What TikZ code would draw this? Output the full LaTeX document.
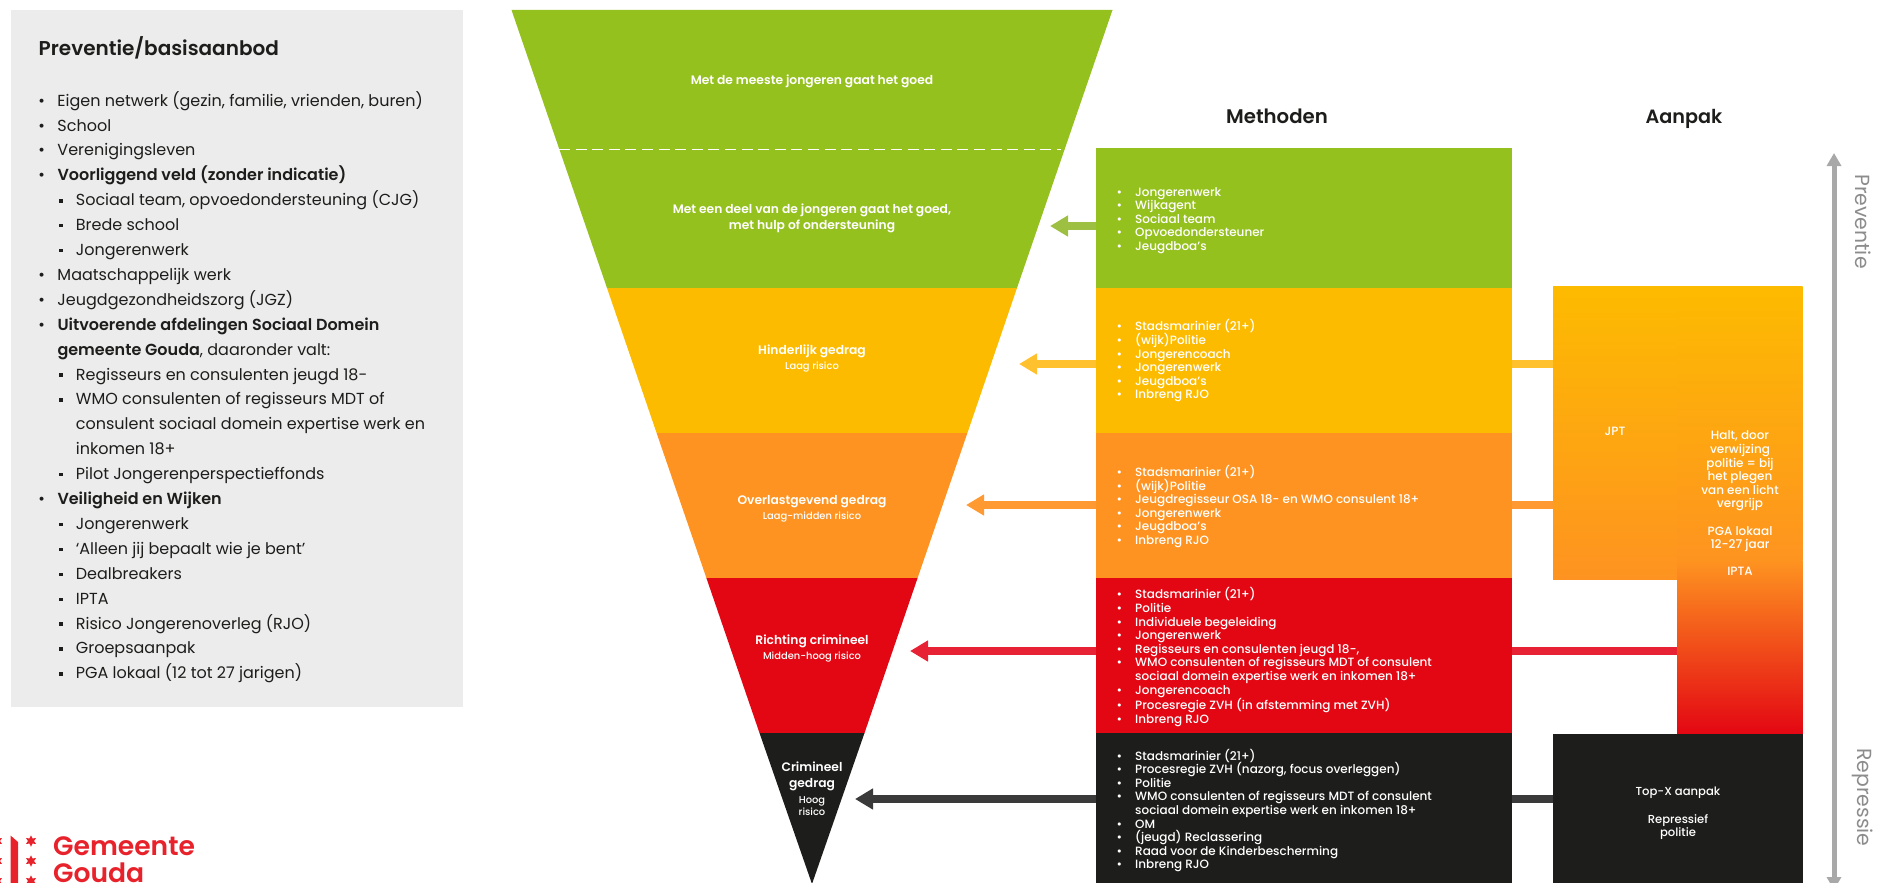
\documentclass[tikz,border=0pt]{standalone}
\usepackage{fontspec}
\setmainfont{Poppins}
\newfontfamily\semib{Poppins SemiBold}
\newfontfamily\medf{Poppins Medium}
\usetikzlibrary{arrows.meta,calc,shapes.geometric}
\definecolor{cgreen}{HTML}{95C11F}
\definecolor{cyellow}{HTML}{FDBB00}
\definecolor{corange}{HTML}{FE9321}
\definecolor{cred}{HTML}{E30613}
\definecolor{clogo}{HTML}{E8222B}
\definecolor{cblack}{HTML}{1D1D1B}
\definecolor{cpanel}{HTML}{ECECEC}
\definecolor{cgray}{HTML}{A8A8A8}
\definecolor{cgraytxt}{HTML}{8C8C8C}
\definecolor{agreen}{HTML}{9DBF42}
\definecolor{ayellow}{HTML}{FFC22E}
\definecolor{aorange}{HTML}{FF9A32}
\definecolor{ared}{HTML}{E62234}
\definecolor{ablack}{HTML}{3A3A3A}
\newcommand{\bul}{\llap{•\hspace{12.5pt}}}
\newcommand{\sbul}{\llap{\rule[3.2pt]{4pt}{3.4pt}\hspace{12.5pt}}}
\newcommand{\wb}{\llap{•\hspace{13pt}}}
\tikzset{
  mbox/.style={anchor=north west,minimum width=416pt,inner sep=0pt,outer sep=0pt,rectangle},
  mtext/.style={anchor=west,align=left,inner sep=0pt,text=white,font=\fontsize{12}{13.6}\medf},
  flabel/.style={align=center,inner sep=0pt,text=white,font=\fontsize{12.3}{16}\semib},
  fsub/.style={align=center,inner sep=0pt,text=white,font=\fontsize{9.9}{12}\medf},
  atext/.style={align=center,inner sep=0pt,text=white,font=\fontsize{12}{13.6}\medf},
  head/.style={inner sep=0pt,text=cblack,font=\fontsize{19.7}{22}\semib},
  back/.style={-{Triangle[length=18pt,width=20pt]},line width=8pt},
  link/.style={line width=8pt},
  side/.style={inner sep=0pt,text=cgraytxt,font=\fontsize{20.4}{22}\selectfont,rotate=-90},
  lstar/.style={star,star points=6,star point ratio=1.9,fill=clogo,minimum size=11.5pt,inner sep=0pt},
}
\begin{document}
\begin{tikzpicture}[x=1pt,y=-1pt]
\useasboundingbox (0,0) rectangle (1883,883);
% left panel
\fill[cpanel] (10.6,10) rectangle (463,707);
\node[anchor=west,inner sep=0pt,text=cblack,font=\fontsize{20}{22}\semib] (ptitle) at (38.5,48) {Preventie/basisaanbod};
\node[anchor=north west,inner sep=0pt,align=left,text=cblack,font=\fontsize{16}{24.9}\selectfont] (plist) at (57.3,91) {%
\bul Eigen netwerk (gezin, familie, vrienden, buren)\\
\bul School\\
\bul Verenigingsleven\\
\bul {\semib Voorliggend veld (zonder indicatie)}\\
\hspace{18.4pt}\sbul Sociaal team, opvoedondersteuning (CJG)\\
\hspace{18.4pt}\sbul Brede school\\
\hspace{18.4pt}\sbul Jongerenwerk\\
\bul Maatschappelijk werk\\
\bul Jeugdgezondheidszorg (JGZ)\\
\bul {\semib Uitvoerende afdelingen Sociaal Domein}\\
{\semib gemeente Gouda}, daaronder valt:\\
\hspace{18.4pt}\sbul Regisseurs en consulenten jeugd 18-\\
\hspace{18.4pt}\sbul WMO consulenten of regisseurs MDT of\\
\hspace{18.4pt}consulent sociaal domein expertise werk en\\
\hspace{18.4pt}inkomen 18+\\
\hspace{18.4pt}\sbul Pilot Jongerenperspectieffonds\\
\bul {\semib Veiligheid en Wijken}\\
\hspace{18.4pt}\sbul Jongerenwerk\\
\hspace{18.4pt}\sbul ‘Alleen jij bepaalt wie je bent’\\
\hspace{18.4pt}\sbul Dealbreakers\\
\hspace{18.4pt}\sbul IPTA\\
\hspace{18.4pt}\sbul Risico Jongerenoverleg (RJO)\\
\hspace{18.4pt}\sbul Groepsaanpak\\
\hspace{18.4pt}\sbul PGA lokaal (12 tot 27 jarigen)};
% logo
\fill[clogo] (10.5,835.5) -- (18,842) -- (18,883) -- (10.5,883) -- cycle;
\foreach \yy in {841,861,881}{
  \node[lstar] at (31,\yy) {};
  \node[lstar] at (-3,\yy) {};
}
\node[anchor=west,inner sep=0pt,text=clogo,font=\fontsize{26.6}{27}\semib,align=left] (logo) at (53,859.5) {Gemeente\\Gouda};
% funnel
\fill[cgreen] (511.5,10) -- (1112.5,10) -- (1017,288) -- (607,288) -- cycle;
\fill[cyellow] (607,288) -- (1017,288) -- (967.4,433) -- (656.6,433) -- cycle;
\fill[corange] (656.6,433) -- (967.4,433) -- (917.6,578) -- (706.4,578) -- cycle;
\fill[cred] (706.4,578) -- (917.6,578) -- (864.5,733) -- (759.5,733) -- cycle;
\fill[cblack] (759.5,733) -- (864.5,733) -- (812,884) -- cycle;
\draw[white,line width=1pt,dash pattern=on 11pt off 5.6pt] (559,149) -- (1061,149);
\node[flabel] (f1) at (812,81) {Met de meeste jongeren gaat het goed};
\node[flabel] (f2) at (812,218) {Met een deel van de jongeren gaat het goed,\\met hulp of ondersteuning};
\node[flabel] (f3) at (812,351) {Hinderlijk gedrag};
\node[fsub] (f3s) at (812,367.5) {Laag risico};
\node[flabel] (f4) at (812,501.5) {Overlastgevend gedrag};
\node[fsub] (f4s) at (812,517.5) {Laag-midden risico};
\node[flabel] (f5) at (812,641) {Richting crimineel};
\node[fsub] (f5s) at (812,657) {Midden-hoog risico};
\node[flabel] (f6) at (812,776) {Crimineel\\gedrag};
\node[fsub] (f6s) at (812,806) {Hoog\\risico};
% headers
\node[head] (hm) at (1277,116) {Methoden};
\node[head,font=\fontsize{19.2}{22}\semib] (ha) at (1684,118.5) {Aanpak};
% connector coordinates
\coordinate (tg) at (1050,226); \coordinate (bg) at (1096,226);
\coordinate (ty) at (1019,364); \coordinate (by) at (1096,364); \coordinate (ry) at (1512,364); \coordinate (ey) at (1553,364);
\coordinate (to) at (966,505); \coordinate (bo) at (1096,505); \coordinate (ro) at (1512,505); \coordinate (eo) at (1553,505);
\coordinate (tr) at (910,651); \coordinate (br) at (1096,651); \coordinate (rr) at (1512,651); \coordinate (er) at (1677,651);
\coordinate (tk) at (855,799); \coordinate (bk) at (1096,799); \coordinate (rk) at (1512,799); \coordinate (ek) at (1553,799);
\draw[back,agreen] (bg) -- (tg);
\draw[back,ayellow] (by) -- (ty);
\draw[back,aorange] (bo) -- (to);
\draw[back,ared] (br) -- (tr);
\draw[back,ablack] (bk) -- (tk);
\draw[link,ayellow] (ry) -- (ey);
\draw[link,aorange] (ro) -- (eo);
\draw[link,ared] (rr) -- (er);
\draw[link,ablack] (rk) -- (ek);
% method boxes
\node[mbox,fill=cgreen,minimum height=140pt] (m1) at (1096,148) {};
\node[mbox,fill=cyellow,minimum height=145pt] (m2) at (1096,288) {};
\node[mbox,fill=corange,minimum height=145pt] (m3) at (1096,433) {};
\node[mbox,fill=cred,minimum height=155pt] (m4) at (1096,578) {};
\node[mbox,fill=cblack,minimum height=150pt] (m5) at (1096,733) {};
\node[mtext] (t1) at (1135,220.5) {\wb Jongerenwerk\\\wb Wijkagent\\\wb Sociaal team\\\wb Opvoedondersteuner\\\wb Jeugdboa’s};
\node[mtext] (t2) at (1135,361) {\wb Stadsmarinier (21+)\\\wb (wijk)Politie\\\wb Jongerencoach\\\wb Jongerenwerk\\\wb Jeugdboa’s\\\wb Inbreng RJO};
\node[mtext] (t3) at (1135,506.5) {\wb Stadsmarinier (21+)\\\wb (wijk)Politie\\\wb Jeugdregisseur OSA 18- en WMO consulent 18+\\\wb Jongerenwerk\\\wb Jeugdboa’s\\\wb Inbreng RJO};
\node[mtext] (t4) at (1135,657) {\wb Stadsmarinier (21+)\\\wb Politie\\\wb Individuele begeleiding\\\wb Jongerenwerk\\\wb Regisseurs en consulenten jeugd 18-,\\\wb WMO consulenten of regisseurs MDT of consulent\\sociaal domein expertise werk en inkomen 18+\\\wb Jongerencoach\\\wb Procesregie ZVH (in afstemming met ZVH)\\\wb Inbreng RJO};
\node[mtext] (t5) at (1135,810.5) {\wb Stadsmarinier (21+)\\\wb Procesregie ZVH (nazorg, focus overleggen)\\\wb Politie\\\wb WMO consulenten of regisseurs MDT of consulent\\sociaal domein expertise werk en inkomen 18+\\\wb OM\\\wb (jeugd) Reclassering\\\wb Raad voor de Kinderbescherming\\\wb Inbreng RJO};
% aanpak
\shade[top color=cyellow,bottom color=corange] (1553,286.5) rectangle (1677.5,579);
\shade[top color=cyellow,bottom color=corange!98!cyellow] (1677,286.5) rectangle (1802.5,560.5);
\shade[top color=corange!98!cyellow,bottom color=cred] (1677,560) rectangle (1802.5,734.5);
\fill[cblack] (1553,734) rectangle (1802.5,883);
\node[atext] (jpt) at (1615,431) {JPT};
\node[atext] (halt) at (1740,503.5) {Halt, door\\verwijzing\\politie = bij\\het plegen\\van een licht\\vergrijp\\[13.6pt]PGA lokaal\\12-27 jaar\\[13.6pt]IPTA};
\node[atext,font=\fontsize{11.6}{13.6}\medf] (top) at (1678,813.5) {Top-X aanpak\\[13.6pt]Repressief\\politie};
% side axis
\coordinate (axt) at (1834,153); \coordinate (axb) at (1834,890);
\draw[{Triangle[length=13pt,width=14pt]}-{Triangle[length=13pt,width=14pt]},cgray,line width=5pt] (axt) -- (axb);
\node[side] (sp) at (1863,221.5) {Preventie};
\node[side] (sr) at (1863,797.5) {Repressie};
\end{tikzpicture}
\end{document}
